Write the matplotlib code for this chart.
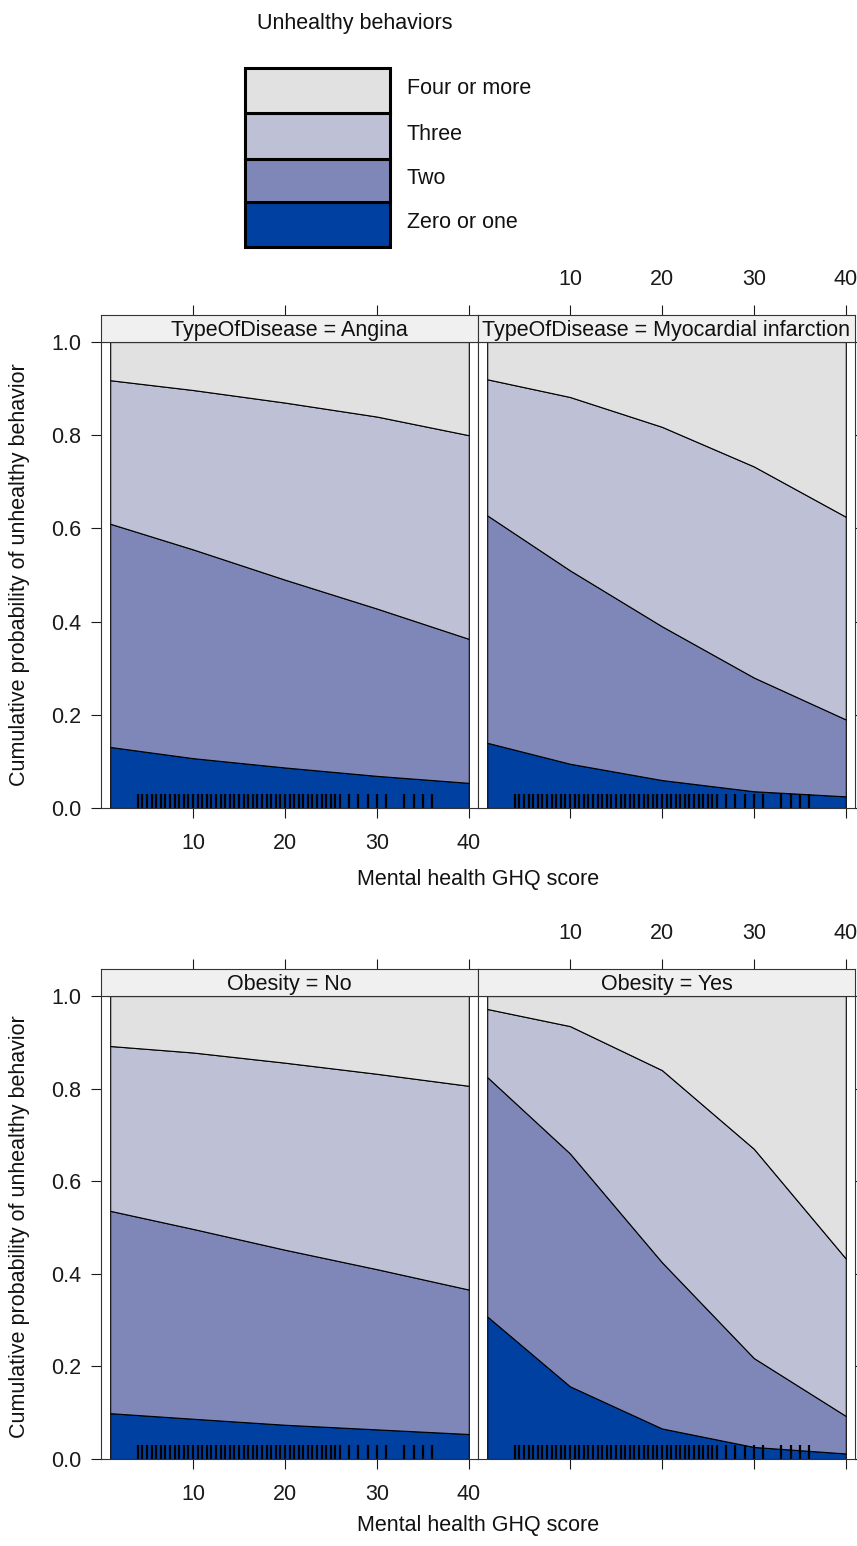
import numpy as np
import matplotlib.pyplot as plt
from matplotlib.patches import Rectangle

plt.rcParams['font.family'] = ['Liberation Sans', 'DejaVu Sans']

# GHQ score values where the effect curves were evaluated
ghq = [1, 10, 20, 30, 40]
levels = ['Zero or one', 'Two', 'Three', 'Four or more']
colors = ['#0040a0', '#7e87b8', '#bec1d5', '#e1e1e1']

# cumulative probabilities (upper edge of each band)
angina_zero = [0.131, 0.107, 0.087, 0.069, 0.054]
angina_two = [0.610, 0.555, 0.490, 0.428, 0.363]
angina_three = [0.918, 0.897, 0.870, 0.840, 0.800]

mi_zero = [0.140, 0.095, 0.060, 0.036, 0.025]
mi_two = [0.628, 0.510, 0.390, 0.280, 0.190]
mi_three = [0.920, 0.882, 0.818, 0.733, 0.625]

obno_zero = [0.099, 0.087, 0.074, 0.064, 0.054]
obno_two = [0.536, 0.497, 0.452, 0.410, 0.366]
obno_three = [0.892, 0.878, 0.856, 0.832, 0.806]

obyes_zero = [0.308, 0.157, 0.066, 0.026, 0.012]
obyes_two = [0.825, 0.660, 0.425, 0.218, 0.093]
obyes_three = [0.972, 0.935, 0.840, 0.670, 0.433]

# observed GHQ scores (rug)
rug_ghq = [4.0, 4.5, 5.0, 5.5, 6.0, 6.5, 7.0, 7.5, 8.0, 8.5, 9.0, 9.5,
           10.0, 10.5, 11.0, 11.5, 12.0, 12.5, 13.0, 13.5, 14.0, 14.5,
           15.0, 15.5, 16.0, 16.5, 17.0, 17.5, 18.0, 18.5, 19.0, 19.5,
           20.0, 20.5, 21.0, 21.5, 22.0, 22.5, 23.0, 23.5, 24.0, 24.5,
           25.0, 25.5, 26.0, 27.0, 28.0, 29.0, 30.0, 31.0, 33.0, 34.0,
           35.0, 36.0]

W, H = 857, 1546
fig = plt.figure(figsize=(W / 100, H / 100), dpi=100)
FS = 15.5


def px_axes(x0, y0, x1, y1):
    # y measured from top in pixels
    return fig.add_axes([x0 / W, 1 - y1 / H, (x1 - x0) / W, (y1 - y0) / H])


def draw_panel(ax, sax, title, zero, two, three, left):
    lower = [0.0] * len(ghq)
    for upper, col in zip([zero, two, three, [1.0] * len(ghq)], colors):
        ax.fill_between(ghq, lower, upper, facecolor=col, edgecolor='black',
                        linewidth=0.8)
        lower = upper
    ax.vlines(rug_ghq, 0, 0.03, color='black', linewidth=1.6)
    ax.set_xlim(0, 41)
    ax.set_ylim(0, 1)
    ax.set_xticks([10, 20, 30, 40])
    ax.set_yticks([0, 0.2, 0.4, 0.6, 0.8, 1.0])
    ax.set_yticklabels(['0.0', '0.2', '0.4', '0.6', '0.8', '1.0'])
    ax.tick_params(direction='out', length=7, width=0.8, labelsize=FS, pad=11,
                   colors='#1a1a1a')
    ax.tick_params(axis='y', pad=7)
    if left:
        ax.tick_params(labelbottom=True, left=True, labelleft=True, right=False)
    else:
        ax.tick_params(labelbottom=False, left=False, labelleft=False,
                       right=True)
    for s in ax.spines.values():
        s.set_linewidth(0.8)
        s.set_color('#333333')

    sax.set_facecolor('#f0f0f0')
    sax.set_xlim(0, 41)
    sax.set_ylim(0, 1)
    sax.set_yticks([])
    sax.set_xticks([10, 20, 30, 40])
    sax.xaxis.tick_top()
    sax.tick_params(direction='out', length=7, width=0.8, labelsize=FS, pad=11,
                    labeltop=not left, colors='#1a1a1a')
    for s in sax.spines.values():
        s.set_linewidth(0.8)
        s.set_color('#333333')
    sax.text(20.5, 0.42, title, ha='center', va='center', fontsize=FS,
             color='#111111')


# top pair: type of disease
ax1 = px_axes(101, 342, 478, 808)
s1 = px_axes(101, 315, 478, 342)
ax2 = px_axes(478, 342, 855, 808)
s2 = px_axes(478, 315, 855, 342)
draw_panel(ax1, s1, 'TypeOfDisease = Angina', angina_zero, angina_two,
           angina_three, True)
draw_panel(ax2, s2, 'TypeOfDisease = Myocardial infarction', mi_zero, mi_two,
           mi_three, False)

# bottom pair: obesity
ax3 = px_axes(101, 996, 478, 1459)
s3 = px_axes(101, 969, 478, 996)
ax4 = px_axes(478, 996, 855, 1459)
s4 = px_axes(478, 969, 855, 996)
draw_panel(ax3, s3, 'Obesity = No', obno_zero, obno_two, obno_three, True)
draw_panel(ax4, s4, 'Obesity = Yes', obyes_zero, obyes_two, obyes_three,
           False)

for ax, ycen, xl in [(ax1, 575, 880), (ax3, 1227, 1525)]:
    fig.text(20 / W, 1 - ycen / H, 'Cumulative probability of unhealthy behavior',
             rotation=90, ha='center', va='center', fontsize=FS,
             color='#111111')
    fig.text(478 / W, 1 - xl / H, 'Mental health GHQ score', ha='center',
             va='center', fontsize=FS, color='#111111')

# legend (key)
lax = fig.add_axes([0, 0, 1, 1], zorder=-1)
lax.set_xlim(0, W)
lax.set_ylim(H, 0)
lax.axis('off')
lax.text(355, 23, 'Unhealthy behaviors', ha='center', va='center',
         fontsize=FS, color='#111111')
row_edges = [247, 202, 159, 113, 68]
for i, (lab, col) in enumerate(zip(levels, colors)):
    y_bot, y_top = row_edges[i], row_edges[i + 1]
    lax.add_patch(Rectangle((245, y_top), 145, y_bot - y_top, facecolor=col,
                            edgecolor='black', linewidth=2.2))
    lax.text(407, (y_top + y_bot) / 2 - 2, lab, ha='left', va='center',
             fontsize=FS, color='#111111')

fig.savefig('out.png', dpi=100)
